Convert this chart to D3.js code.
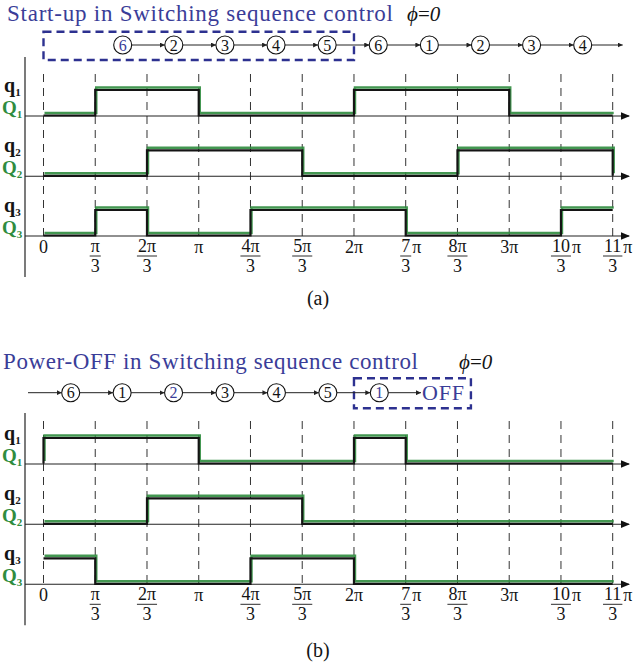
<!DOCTYPE html>
<html><head><meta charset="utf-8">
<script src="https://cdn.jsdelivr.net/npm/d3@7"></script>
<style>html,body{margin:0;padding:0;background:#fff;} svg{display:block} text{font-family:"Liberation Serif","Times New Roman",Times,serif;}</style>
</head><body><svg id="c" width="636" height="664"></svg>
<script>
// ---------------- data ----------------
const tickValues = [0,1,2,3,4,5,6,7,8,9,10,11];           // units of π/3
const tickLabels = ["0","π/3","2π/3","π","4π/3","5π/3","2π","7/3π","8π/3","3π","10/3π","11/3π"];
const seqA = ["6","2","3","4","5","6","1","2","3","4"];
const seqAHighlight = [0];
const seqB = ["6","1","2","3","4","5","1"];
const seqBHighlight = [2,6];
const rowNames = ["1","2","3"];
// switching states as [t (π/3 units), level]
const q1A = [[0,0],[1,1],[3,0],[6,1],[9,0],[11,0]];
const q2A = [[0,0],[2,1],[5,0],[8,1],[11,0]];
const q3A = [[0,0],[1,1],[2,0],[4,1],[7,0],[10,1],[11,1]];
const q1B = [[0,0],[0,1],[3,0],[6,1],[7,0],[11,0]];
const q2B = [[0,0],[2,1],[5,0],[11,0]];
const q3B = [[0,1],[1,0],[4,1],[6,0],[11,0]];
const titleA = "Start-up in Switching sequence control";
const titleB = "Power-OFF in Switching sequence control";

// ---------------- style ----------------
const BLUE = "#3a3d98", BOX = "#2d3190", GREEN = "#2f8c3e", BLACK = "#141414";

const svg = d3.select("#c");
const defs = svg.append("defs");
defs.append("marker").attr("id","ah").attr("viewBox","0 0 10 10").attr("refX",10).attr("refY",5)
  .attr("markerWidth",5).attr("markerHeight",5).attr("markerUnits","userSpaceOnUse").attr("orient","auto")
  .append("path").attr("d","M0,0L10,5L0,10z").attr("fill","#222");

const x = d3.scaleLinear().domain([0,11]).range([43.5,612.7]);

const panels = [
  {title:titleA, titleX:7, titleW:386, titleY:21, phiX:407, seq:seqA, hl:seqAHighlight,
   seqRange:[122.7,582.7], seqY:45, lead:false, tail:"arrow", box:[0,6,31.7,60],
   rows:[116,176.3,236], data:[q1A,q2A,q3A], axisTop:57, dashTop:74, caption:"(a)", capY:305},
  {title:titleB, titleX:3, titleW:415, titleY:369, phiX:459, seq:seqB, hl:seqBHighlight,
   seqRange:[70.7,379.3], seqY:392.7, lead:true, tail:"OFF", box:[6,8.26,378.3,408.3],
   rows:[464,524.3,584.3], data:[q1B,q2B,q3B], axisTop:413, dashTop:421, caption:"(b)", capY:657}
];

panels.forEach(P => {
  const g = svg.append("g");
  // title
  g.append("text").attr("x",P.titleX).attr("y",P.titleY).attr("font-size",23)
    .attr("fill",BLUE).attr("textLength",P.titleW).attr("lengthAdjust","spacing").text(P.title);
  const phi = g.append("text").attr("x",P.phiX).attr("y",P.titleY)
    .attr("font-size",21).attr("font-style","italic").attr("fill",BLACK);
  phi.append("tspan").text("ϕ");
  phi.append("tspan").attr("font-style","normal").text("=");
  phi.append("tspan").text("0");

  // dashed box
  const [b0,b1,by0,by1] = P.box;
  g.append("rect").attr("x",x(b0)).attr("y",by0).attr("width",x(b1)-x(b0)).attr("height",by1-by0)
    .attr("fill","none").attr("stroke",BOX).attr("stroke-width",2.4).attr("stroke-dasharray","8,5");

  // sequence
  const r = 9;
  const sx = d3.scalePoint().domain(d3.range(P.seq.length)).range(P.seqRange);
  const arrows = [];
  for (let i=0;i<P.seq.length-1;i++) arrows.push([sx(i)+r, sx(i+1)-r]);
  if (P.lead) arrows.push([28, sx(0)-r]);
  const last = sx(P.seq.length-1);
  if (P.tail==="arrow") arrows.push([last+r, 622.7]);
  else arrows.push([last+r, 421]);
  g.selectAll(null).data(arrows).enter().append("line")
    .attr("x1",d=>d[0]).attr("x2",d=>d[1]).attr("y1",P.seqY).attr("y2",P.seqY)
    .attr("stroke","#222").attr("stroke-width",1).attr("marker-end","url(#ah)");
  g.selectAll(null).data(P.seq).enter().append("circle")
    .attr("cx",(d,i)=>sx(i)).attr("cy",P.seqY).attr("r",r)
    .attr("fill","#fff").attr("stroke","#111").attr("stroke-width",1.1);
  g.selectAll(null).data(P.seq).enter().append("text")
    .attr("x",(d,i)=>sx(i)).attr("y",P.seqY+5.5).attr("text-anchor","middle")
    .attr("font-size",16)
    .attr("fill",(d,i)=>P.hl.includes(i)?BLUE:BLACK).text(d=>d);
  if (P.tail==="OFF") {
    g.append("text").attr("x",422).attr("y",P.seqY+7.5).attr("font-size",22)
      .attr("fill",BLUE).attr("textLength",42).text("OFF");
  }

  // dashed grid
  const bottom = P.rows[P.rows.length-1];
  g.selectAll(null).data(tickValues).enter().append("line")
    .attr("x1",d=>x(d)).attr("x2",d=>x(d)).attr("y1",P.dashTop).attr("y2",bottom)
    .attr("stroke","#333").attr("stroke-width",1).attr("stroke-dasharray","8,6");

  // vertical axis
  g.append("line").attr("x1",25).attr("x2",25).attr("y1",P.axisTop).attr("y2",bottom+41)
    .attr("stroke","#222").attr("stroke-width",1.2);

  // rows
  P.rows.forEach((ay,ri) => {
    g.append("line").attr("x1",25).attr("x2",629).attr("y1",ay).attr("y2",ay)
      .attr("stroke","#222").attr("stroke-width",1.1);
    g.append("path").attr("d",`M621,${ay-3.8}L630,${ay}L621,${ay+3.8}Z`).attr("fill","#111");
    const yb = d3.scaleLinear().domain([0,1]).range([ay-0.5, ay-26]);
    const yg = d3.scaleLinear().domain([0,1]).range([ay-3, ay-28.5]);
    const data = P.data[ri];
    g.append("path").datum(data)
      .attr("d", d3.line().x(d=>x(d[0])+1).y(d=>yg(d[1])).curve(d3.curveStepAfter))
      .attr("fill","none").attr("stroke",GREEN).attr("stroke-width",2.5).attr("opacity",0.9);
    g.append("path").datum(data)
      .attr("d", d3.line().x(d=>x(d[0])).y(d=>yb(d[1])).curve(d3.curveStepAfter))
      .attr("fill","none").attr("stroke",BLACK).attr("stroke-width",2.2);
    // labels
    const tq = g.append("text").attr("x",4).attr("y",ay-24)
      .attr("font-size",20).attr("font-weight","bold").attr("fill",BLACK);
    tq.append("tspan").text("q");
    tq.append("tspan").attr("font-size",11).attr("dy",4).text(rowNames[ri]);
    const tQ = g.append("text").attr("x",2).attr("y",ay-2)
      .attr("font-size",19).attr("font-weight","bold").attr("fill",GREEN);
    tQ.append("tspan").text("Q");
    tQ.append("tspan").attr("font-size",11).attr("dy",4).text(rowNames[ri]);
  });

  // tick labels
  const tl = g.selectAll(null).data(tickValues).enter().append("g")
    .attr("transform",d=>`translate(${x(d)},${bottom})`);
  tl.each(function(d,i){
    const s = tickLabels[i];
    const el = d3.select(this);
    if (s.indexOf("/")<0) {
      el.append("text").attr("y",17).attr("text-anchor","middle")
        .attr("font-size",18).attr("fill",BLACK).text(s);
    } else {
      const num = s.split("/")[0];
      const rest = s.split("/")[1];
      const den = rest.charAt(0), suf = rest.slice(1);
      const n = el.append("text").attr("y",16).attr("text-anchor","middle")
        .attr("font-size",18).attr("fill",BLACK).text(num);
      const w = n.node().getComputedTextLength()+2;
      el.append("line").attr("x1",-w/2).attr("x2",w/2).attr("y1",20).attr("y2",20)
        .attr("stroke",BLACK).attr("stroke-width",0.9);
      el.append("text").attr("y",36).attr("text-anchor","middle")
        .attr("font-size",18).attr("fill",BLACK).text(den);
      if (suf) el.append("text").attr("x",w/2+1).attr("y",17)
        .attr("font-size",18).attr("fill",BLACK).text(suf);
    }
  });

  // caption
  g.append("text").attr("x",318).attr("y",P.capY).attr("text-anchor","middle")
    .attr("font-size",20).attr("fill",BLACK).text(P.caption);
});
</script></body></html>
